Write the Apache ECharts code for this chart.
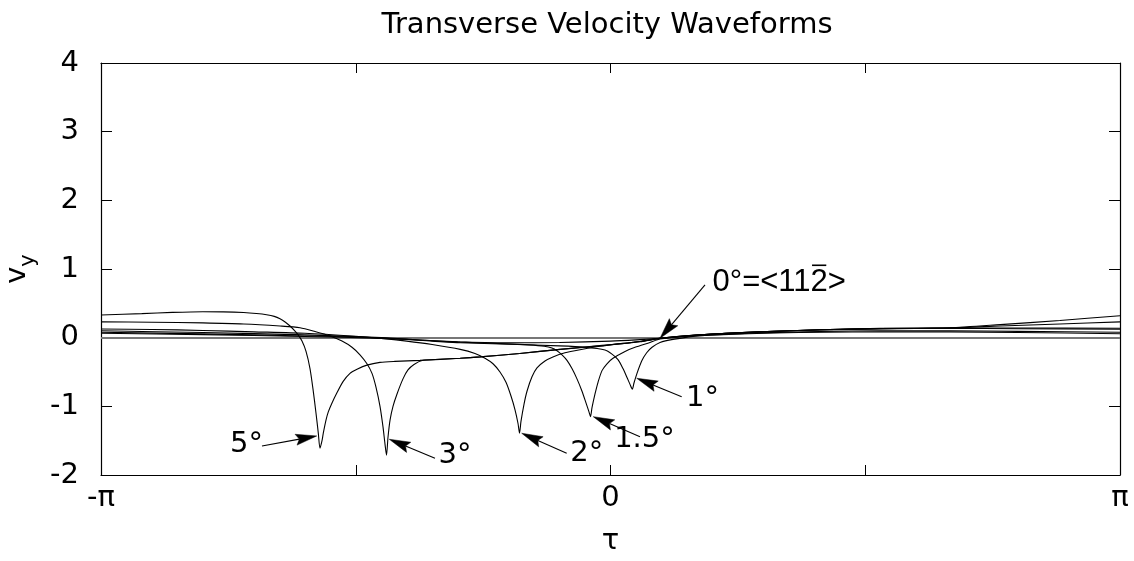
<!DOCTYPE html>
<html>
<head>
<meta charset="utf-8">
<script src="https://cdn.jsdelivr.net/npm/echarts/dist/echarts.min.js"></script>
<style>
  html, body { margin: 0; padding: 0; background: #fff; }
  #chart { width: 1134px; height: 561px; }
</style>
</head>
<body>
<div id="chart"></div>
<script>
// Transverse velocity v_y over one period; abscissa is tau / pi.
const curve5 = [
  [-1.00, 0.33], [-0.92, 0.35], [-0.86, 0.368], [-0.80, 0.378], [-0.76, 0.376],
  [-0.72, 0.366], [-0.695, 0.352], [-0.675, 0.334], [-0.66, 0.31], [-0.6487, 0.275],
  [-0.638, 0.225], [-0.629, 0.17], [-0.621, 0.11], [-0.6134, 0.045], [-0.6055, -0.05],
  [-0.5976, -0.20], [-0.5898, -0.45], [-0.5839, -0.75],
  [-0.578, -1.10], [-0.5735, -1.39], [-0.5702, -1.61], [-0.5662, -1.50], [-0.5637, -1.39],
  [-0.5584, -1.20], [-0.5539, -1.08], [-0.5466, -0.95], [-0.5374, -0.81], [-0.525, -0.64],
  [-0.5113, -0.52], [-0.4975, -0.46], [-0.478, -0.40], [-0.4524, -0.36], [-0.423, -0.345],
  [-0.374, -0.33], [-0.295, -0.30], [-0.256, -0.28], [-0.178, -0.23], [-0.099, -0.17],
  [-0.021, -0.12], [0.058, -0.06], [0.097, -0.01], [0.176, 0.04], [0.293, 0.085],
  [0.411, 0.115], [0.529, 0.135], [0.666, 0.145], [0.765, 0.19], [0.882, 0.25], [1.00, 0.32]
];
const curve3 = [
  [-1.00, 0.23], [-0.90, 0.225], [-0.80, 0.215], [-0.72, 0.20], [-0.6487, 0.17],
  [-0.6094, 0.145], [-0.58, 0.09], [-0.5505, 0.025], [-0.527, -0.05], [-0.5074, -0.14],
  [-0.4917, -0.25], [-0.478, -0.38], [-0.4681, -0.52], [-0.4603, -0.72], [-0.4524, -1.00],
  [-0.4465, -1.30], [-0.4426, -1.55], [-0.4396, -1.71], [-0.4367, -1.45], [-0.4327, -1.20],
  [-0.4269, -1.00], [-0.419, -0.82], [-0.4073, -0.60], [-0.3975, -0.47], [-0.3857, -0.39],
  [-0.368, -0.33], [-0.335, -0.315], [-0.295, -0.30], [-0.256, -0.28], [-0.178, -0.23],
  [-0.099, -0.17], [-0.021, -0.115], [0.058, -0.055], [0.097, -0.01], [0.176, 0.04],
  [0.293, 0.085], [0.411, 0.115], [0.529, 0.133], [0.666, 0.143], [0.765, 0.17],
  [0.882, 0.20], [1.00, 0.23]
];
const curve2 = [
  [-1.00, 0.127], [-0.90, 0.12], [-0.80, 0.105], [-0.70, 0.085], [-0.60, 0.064],
  [-0.50, 0.02], [-0.45, -0.01], [-0.40, -0.05], [-0.35, -0.10], [-0.295, -0.17],
  [-0.266, -0.23], [-0.2463, -0.30], [-0.2306, -0.38], [-0.2169, -0.50], [-0.2051, -0.65],
  [-0.1953, -0.85], [-0.1874, -1.05], [-0.1815, -1.25], [-0.1786, -1.39], [-0.1757, -1.22],
  [-0.1698, -0.97], [-0.1639, -0.78], [-0.1541, -0.57], [-0.1443, -0.44], [-0.1286, -0.34],
  [-0.113, -0.28], [-0.0893, -0.22], [-0.0599, -0.175], [-0.0206, -0.125], [0.058, -0.055],
  [0.097, -0.01], [0.176, 0.04], [0.293, 0.085], [0.411, 0.115], [0.529, 0.132],
  [0.666, 0.14], [0.80, 0.14], [1.00, 0.137]
];
const curve15 = [
  [-1.00, 0.10], [-0.80, 0.075], [-0.60, 0.04], [-0.45, 0.0], [-0.35, -0.045],
  [-0.295, -0.065], [-0.20, -0.09], [-0.16, -0.105], [-0.13, -0.125], [-0.115, -0.15],
  [-0.105, -0.19], [-0.0952, -0.25], [-0.0854, -0.33], [-0.0756, -0.45], [-0.0658, -0.60],
  [-0.0559, -0.78], [-0.0481, -0.95], [-0.0422, -1.08], [-0.0393, -1.15], [-0.0363, -1.02],
  [-0.0304, -0.82], [-0.0245, -0.65], [-0.0167, -0.48], [-0.0069, -0.38], [0.0049, -0.30],
  [0.0285, -0.20], [0.0481, -0.14], [0.0775, -0.07], [0.0972, -0.02], [0.176, 0.04],
  [0.293, 0.085], [0.411, 0.112], [0.529, 0.128], [0.666, 0.136], [0.80, 0.13], [1.00, 0.122]
];
const curve1 = [
  [-1.00, 0.078], [-0.80, 0.055], [-0.60, 0.025], [-0.45, -0.005], [-0.35, -0.05],
  [-0.295, -0.075], [-0.20, -0.095], [-0.10, -0.12], [-0.05, -0.14], [-0.0108, -0.18],
  [0.0029, -0.24], [0.0147, -0.32], [0.0245, -0.45], [0.0324, -0.58], [0.0383, -0.68],
  [0.0428, -0.75], [0.0461, -0.66], [0.052, -0.52], [0.0612, -0.34], [0.071, -0.22],
  [0.0815, -0.14], [0.0972, -0.07], [0.1227, -0.025], [0.176, 0.03], [0.293, 0.07],
  [0.411, 0.09], [0.529, 0.10], [0.666, 0.10], [0.80, 0.092], [1.00, 0.078]
];
const curve0 = [
  [-1.00, 0.064], [-0.80, 0.045], [-0.60, 0.018], [-0.45, -0.01], [-0.30, -0.06],
  [-0.20, -0.075], [-0.10, -0.07], [0.00, -0.05], [0.05, -0.032], [0.0972, -0.01],
  [0.15, 0.02], [0.22, 0.045], [0.32, 0.068], [0.42, 0.08], [0.529, 0.085],
  [0.666, 0.085], [0.80, 0.075], [1.00, 0.058]
];

// Angle labels and their pointer arrows: [tailX, tailY, tipX, tipY, textX, textY]
// Each label: [text, index of the character carrying an overbar, or -1]
const labelTexts = [['5°', -1], ['3°', -1], ['2°', -1], ['1.5°', -1], ['1°', -1], ['0°=<112>', 6]];
const labelArrows = [
  [-0.684, -1.577, -0.5766, -1.431, -0.7144, -1.5625],
  [-0.3445, -1.756, -0.4342, -1.4795, -0.3052, -1.7155],
  [-0.086, -1.683, -0.1743, -1.392, -0.0467, -1.6834],
  [0.0579, -1.4417, -0.0338, -1.1504, 0.0667, -1.4897],
  [0.1397, -0.859, 0.0514, -0.591, 0.1806, -0.8854],
  [0.1855, 0.7674, 0.0972, -0.0087, 0.3311, 0.80]
];

const xTickLabels = { '-1': '-\u03c0', '0': '0', '1': '\u03c0' };

const FONT = '"DejaVu Sans", "Liberation Sans", Arial, sans-serif';
const FS = 29;
// narrower face for the direction label, whose <, = and > are wide in DejaVu
const NOTE_FONT = '31px "Liberation Sans", Arial, sans-serif';

// text measurement for the overbar placement
const measureCtx = document.createElement('canvas').getContext('2d');
measureCtx.textBaseline = 'middle';

const chart = echarts.init(document.getElementById('chart'), null, { renderer: 'canvas' });

function waveSeries(name, data) {
  return {
    name: name,
    type: 'line',
    data: data,
    showSymbol: false,
    symbol: 'none',
    smooth: 0.25,
    lineStyle: { color: '#000', width: 1.1 },
    z: 3,
    silent: true
  };
}

const frameAxisLine = { show: true, onZero: false, lineStyle: { color: '#000', width: 1.2 } };

chart.setOption({
  animation: false,
  backgroundColor: '#fff',
  title: {
    text: 'Transverse Velocity Waveforms',
    left: 602,
    textAlign: 'center',
    top: 6,
    textStyle: { fontFamily: FONT, fontSize: FS, fontWeight: 'normal', color: '#000' }
  },
  grid: { left: 101, right: 14, top: 63, bottom: 86, containLabel: false, outerBoundsMode: 'none' },
  xAxis: [
    {
      type: 'value', min: -1, max: 1, interval: 0.5, position: 'bottom',
      axisLine: frameAxisLine,
      axisTick: { show: true, inside: true, length: 10, lineStyle: { color: '#000' } },
      axisLabel: {
        show: true, margin: 9, fontFamily: FONT, fontSize: FS, color: '#000',
        formatter: v => xTickLabels[String(v)] || ''
      },
      splitLine: { show: false },
      name: '\u03c4', nameLocation: 'middle', nameGap: 52,
      nameTextStyle: { fontFamily: FONT, fontSize: FS, color: '#000' }
    },
    {
      type: 'value', min: -1, max: 1, interval: 0.5, position: 'top',
      axisLine: frameAxisLine,
      axisTick: { show: true, inside: true, length: 10, lineStyle: { color: '#000' } },
      axisLabel: { show: false },
      splitLine: { show: false }
    }
  ],
  yAxis: [
    {
      type: 'value', min: -2, max: 4, interval: 1, position: 'left',
      axisLine: frameAxisLine,
      axisTick: { show: true, inside: true, length: 11, lineStyle: { color: '#000' } },
      axisLabel: { show: true, margin: 22, fontFamily: FONT, fontSize: FS, color: '#000' },
      splitLine: { show: false },
      name: '{v|v}{s|y}', nameLocation: 'middle', nameRotate: 90, nameGap: 62,
      nameTextStyle: {
        color: '#000',
        rich: {
          v: { fontFamily: FONT, fontSize: FS, color: '#000', lineHeight: 44, verticalAlign: 'middle' },
          s: { fontFamily: FONT, fontSize: 21, color: '#000', lineHeight: 44, verticalAlign: 'bottom' }
        }
      }
    },
    {
      type: 'value', min: -2, max: 4, interval: 1, position: 'right',
      axisLine: frameAxisLine,
      axisTick: { show: true, inside: true, length: 11, lineStyle: { color: '#000' } },
      axisLabel: { show: false },
      splitLine: { show: false }
    }
  ],
  series: [
    Object.assign(waveSeries('5°', curve5), {
      markLine: {
        silent: true, symbol: 'none', label: { show: false },
        lineStyle: { color: '#777', width: 2, type: 'solid' },
        data: [{ yAxis: 0 }], z: 2
      }
    }),
    waveSeries('3°', curve3),
    waveSeries('2°', curve2),
    waveSeries('1.5°', curve15),
    waveSeries('1°', curve1),
    waveSeries('0°', curve0),
    {
      name: 'labels',
      type: 'custom',
      coordinateSystem: 'cartesian2d',
      silent: true,
      z: 5,
      clip: false,
      encode: { x: [0, 2, 4], y: [1, 3, 5] },
      data: labelArrows.map((r, i) => r.concat([i])),
      renderItem: function (params, api) {
        const tail = api.coord([api.value(0), api.value(1)]);
        const tip = api.coord([api.value(2), api.value(3)]);
        const txt = api.coord([api.value(4), api.value(5)]);
        const idx = api.value(6);
        const text = labelTexts[idx][0];
        const barAt = labelTexts[idx][1];
        const font = /[<>=]/.test(text) ? NOTE_FONT : FS + 'px ' + FONT;
        const dx = tip[0] - tail[0], dy = tip[1] - tail[1];
        const len = Math.hypot(dx, dy) || 1;
        const ux = dx / len, uy = dy / len;
        const headLen = 21, headHalf = 5.5;
        const bx = tip[0] - ux * headLen, by = tip[1] - uy * headLen;
        const nx = tip[0] - ux * headLen * 0.84, ny = tip[1] - uy * headLen * 0.84;
        const children = [
          {
            type: 'line',
            shape: { x1: tail[0], y1: tail[1], x2: nx, y2: ny },
            style: { stroke: '#000', lineWidth: 1.1 }
          },
          {
            type: 'polygon',
            shape: {
              points: [
                tip,
                [bx - uy * headHalf, by + ux * headHalf],
                [nx, ny],
                [bx + uy * headHalf, by - ux * headHalf]
              ]
            },
            style: { fill: '#000', stroke: '#000', lineWidth: 0.5 }
          },
          {
            type: 'text',
            x: txt[0], y: txt[1],
            style: {
              text: text,
              font: font,
              fill: '#000',
              align: 'center',
              verticalAlign: 'middle'
            }
          }
        ];
        if (barAt >= 0) {
          measureCtx.font = font;
          const full = measureCtx.measureText(text).width;
          const pre = measureCtx.measureText(text.slice(0, barAt)).width;
          const ch = measureCtx.measureText(text.charAt(barAt));
          const left = txt[0] - full / 2 + pre;
          const top = txt[1] - ch.actualBoundingBoxAscent - 4;
          children.push({
            type: 'line',
            shape: { x1: left + 1.5, y1: top, x2: left + ch.width - 1.5, y2: top },
            style: { stroke: '#000', lineWidth: 1.6 }
          });
        }
        return { type: 'group', children: children };
      }
    }
  ]
});
</script>
</body>
</html>
